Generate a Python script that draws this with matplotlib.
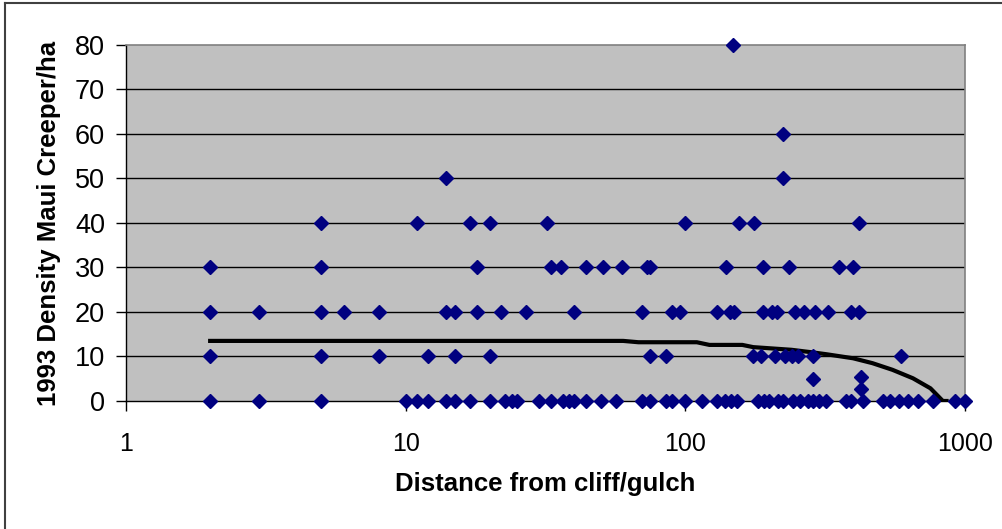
import numpy as np
import matplotlib
matplotlib.use('Agg')
import matplotlib.pyplot as plt
from matplotlib.lines import Line2D
from matplotlib.ticker import FixedLocator, FixedFormatter, NullLocator

plt.rcParams['font.family'] = ['Liberation Sans', 'DejaVu Sans']

# distance from cliff/gulch and density readings
distance = [2, 2, 2, 2, 3, 3, 5, 5, 5, 5, 5, 6, 8, 8, 10, 11, 11, 12, 12,
            14, 14, 14, 15, 15, 15, 17, 17, 18, 18, 20, 20, 20, 22, 22.6, 24, 25,
            27, 30, 32, 33, 33, 36, 36.6, 38.4, 40, 40, 44, 44, 50, 51, 56.5, 59.5,
            70, 70, 73, 75, 75, 75, 85, 85, 90, 90, 95.6, 100, 100, 115, 130, 130,
            139, 140, 144, 146, 148, 150, 153, 156, 175, 176, 182, 187, 189, 190,
            192, 200, 204, 209, 213, 214, 224, 224, 224, 227, 235, 240, 242, 247,
            253, 258, 266, 275, 287, 287, 287, 291, 302, 318, 323, 355, 377, 391,
            392, 398, 419, 419, 425, 425, 433, 510, 538, 582, 590, 626, 677, 770,
            925, 1000]
density = [0, 10, 20, 30, 0, 20, 0, 10, 20, 30, 40, 20, 10, 20, 0, 0, 40, 0, 10,
           0, 20, 50, 0, 10, 20, 0, 40, 20, 30, 0, 10, 40, 20, 0, 0, 0,
           20, 0, 40, 0, 30, 30, 0, 0, 0, 20, 0, 30, 0, 30, 0, 30,
           0, 20, 30, 0, 10, 30, 0, 10, 0, 20, 20, 0, 40, 0, 0, 20,
           0, 30, 20, 0, 80, 20, 0, 40, 10, 40, 0, 10, 20, 30,
           0, 0, 20, 10, 20, 0, 0, 50, 60, 10, 30, 10, 0, 20,
           10, 0, 20, 0, 0, 5, 10, 20, 0, 0, 20, 30, 0, 20,
           0, 30, 20, 40, 5.5, 2.6, 0, 0, 0, 0, 10, 0, 0, 0,
           0, 0]

# fitted trend line
trend_x = [2, 60, 68, 110, 122, 160, 175, 205, 240, 287, 320, 398, 467, 551,
           652, 753, 834, 860]
trend_y = [13.5, 13.5, 13.2, 13.2, 12.6, 12.6, 12.1, 11.8, 11.5, 10.9, 10.5,
           9.6, 8.5, 7.0, 5.1, 2.85, 0, 0]

y_ticks = [0, 10, 20, 30, 40, 50, 60, 70, 80]
x_ticks = [1, 10, 100, 1000]
x_labels = ['1', '10', '100', '1000']

fig = plt.figure(figsize=(10.03, 5.29), dpi=100)
ax = fig.add_axes([0.1256, 0.242, 0.962 - 0.1256, 0.915 - 0.242])
ax.set_facecolor('#C0C0C0')

ax.set_xscale('log')
ax.set_xlim(1, 1000)
ax.set_ylim(0, 80)

for yv in y_ticks[1:-1]:
    ax.axhline(yv, color='black', lw=1.0, zorder=1)

ax.plot(trend_x, trend_y, color='black', lw=3.0, zorder=2)
ax.plot(distance, density, ls='none', marker='D', ms=7.4, color='#000080',
        mec='#000080', zorder=3, clip_on=False)

ax.xaxis.set_major_locator(FixedLocator(x_ticks))
ax.xaxis.set_major_formatter(FixedFormatter(x_labels))
ax.xaxis.set_minor_locator(NullLocator())
ax.set_yticks(y_ticks)

ax.tick_params(axis='both', direction='out', length=7, width=1, color='black')
ax.tick_params(axis='x', pad=15, labelsize=18)
ax.tick_params(axis='y', pad=8, labelsize=19.5)

for side in ['top', 'right']:
    ax.spines[side].set_color('#808080')
    ax.spines[side].set_linewidth(1.2)
for side in ['left', 'bottom']:
    ax.spines[side].set_color('black')
    ax.spines[side].set_linewidth(1.0)

ax.set_xlabel('Distance from cliff/gulch', fontsize=18.5, fontweight='bold',
              labelpad=12)
ax.set_ylabel('1993 Density Maui Creeper/ha', fontsize=18.5, fontweight='bold',
              labelpad=10)

# chart-area border (only left and top fall inside the picture)
fig.add_artist(Line2D([5 / 1003, 5 / 1003], [0, 1 - 3 / 529], color='#404040',
                      lw=1.5, transform=fig.transFigure))
fig.add_artist(Line2D([5 / 1003, 1], [1 - 3 / 529, 1 - 3 / 529], color='#404040',
                      lw=1.5, transform=fig.transFigure))

fig.savefig('out.png', dpi=100)
